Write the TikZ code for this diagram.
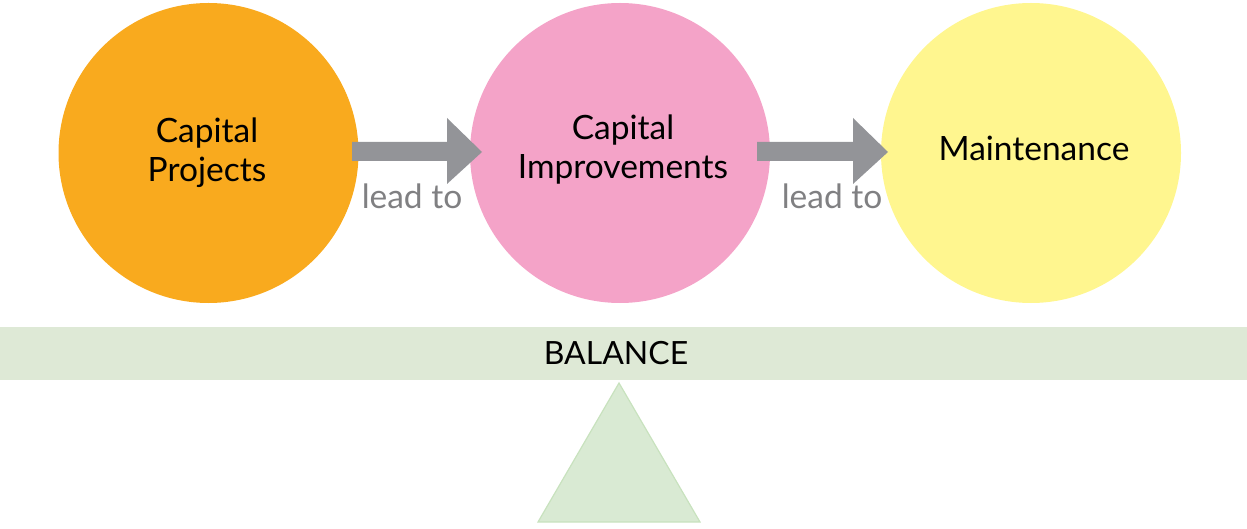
\documentclass[tikz,border=0pt]{standalone}
\usepackage{fontspec}
\setmainfont{Lato}
\definecolor{orangec}{RGB}{249,170,30}
\definecolor{pinkc}{RGB}{244,163,200}
\definecolor{yellowc}{RGB}{255,246,143}
\definecolor{arrowgray}{RGB}{147,148,152}
\definecolor{labelgray}{RGB}{128,128,130}
\definecolor{bandgreen}{RGB}{222,233,214}
\definecolor{trifill}{RGB}{217,234,211}
\definecolor{triline}{RGB}{200,226,190}
\begin{document}
\begin{tikzpicture}[x=1pt,y=-1pt,
  bubble/.style={circle,minimum size=300pt,inner sep=0pt,draw=none},
  bubtext/.style={font=\fontsize{33.5}{39}\selectfont,align=center,text=black},
  leadlabel/.style={font=\fontsize{33.5}{38}\selectfont,text=labelgray,anchor=base},
  fatarrow/.style={fill=arrowgray,draw=none}]
\useasboundingbox (0,0) rectangle (1247,529);
\node[bubble,fill=orangec] (c1) at (208.5,153) {};
\node[bubble,fill=pinkc] (c2) at (620,153) {};
\node[bubble,fill=yellowc] (c3) at (1031,153) {};
\node[bubtext] (t1) at (207,153) {Capital\\Projects};
\node[bubtext] (t2) at (623,150) {Capital\\Improvements};
\node[bubtext] (t3) at (1034,148) {Maintenance};
% arrows
\fill[fatarrow] (352,142) -- (447,142) -- (447,118) -- (482,152) -- (447,184) -- (447,161) -- (352,161) -- cycle;
\fill[fatarrow] (757,142) -- (853,142) -- (853,118) -- (888,152) -- (853,184) -- (853,161) -- (757,161) -- cycle;
\node[leadlabel] (l1) at (412,209) {lead to};
\node[leadlabel] (l2) at (832,209) {lead to};
% balance band
\fill[bandgreen] (0,327) rectangle (1247,380);
\node[font=\fontsize{32}{36}\selectfont,text=black] (bal) at (616,353) {BALANCE};
% fulcrum
\filldraw[fill=trifill,draw=triline,line width=1.2pt] (619,383) -- (700,522) -- (538,522) -- cycle;
\end{tikzpicture}
\end{document}
